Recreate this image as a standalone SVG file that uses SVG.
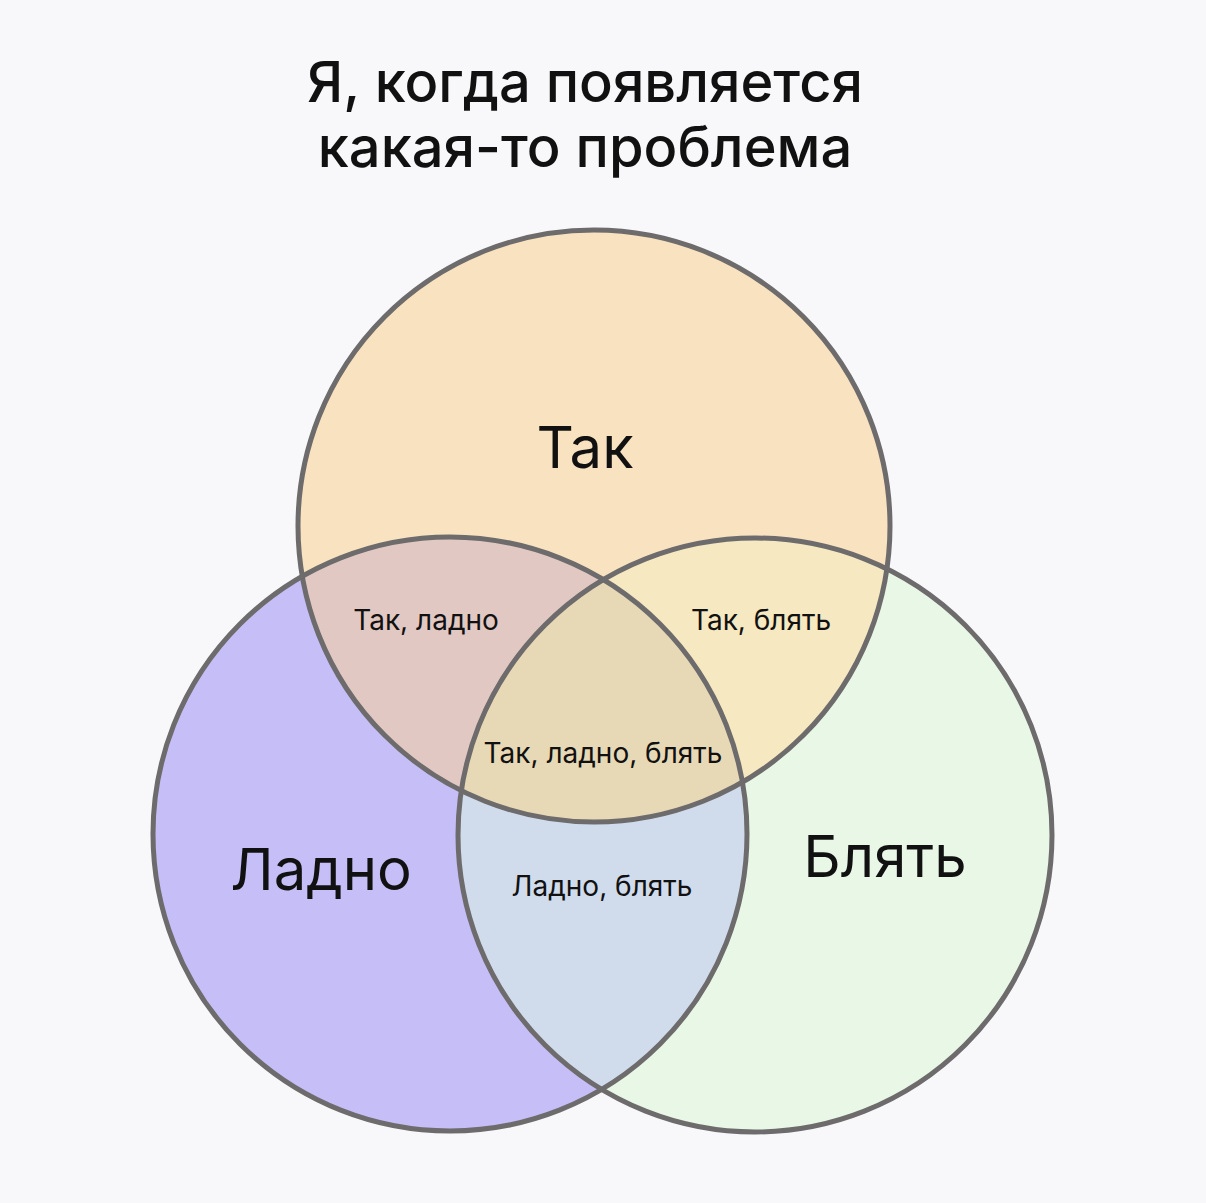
<svg xmlns="http://www.w3.org/2000/svg" width="1206" height="1203" viewBox="0 0 1206 1203">
<style>
.lbl{font-family:Inter,"Noto Sans",Roboto,"Liberation Sans",sans-serif;fill:#111;text-anchor:middle}
.big{font-size:58px}
.small{font-size:28px}
.title{font-size:56px;font-weight:500}
.ring{fill:none;stroke:#6d6b6b;stroke-width:5}
</style>
<defs>
<clipPath id="cT"><circle cx="594" cy="526" r="296"/></clipPath>
<clipPath id="cL"><circle cx="450" cy="834" r="297"/></clipPath>
<clipPath id="cR"><circle cx="755" cy="835" r="297"/></clipPath>
</defs>
<rect width="1206" height="1203" fill="#f8f8fa"/>
<g id="title">
<text class="lbl title" x="585" y="102">Я, когда появляется</text>
<text class="lbl title" x="585" y="167">какая-то проблема</text>
</g>
<g id="fills">
<circle cx="594" cy="526" r="296" fill="#f9e2bf"/>
<circle cx="450" cy="834" r="297" fill="#c5bef7"/>
<circle cx="755" cy="835" r="297" fill="#e8f7e6"/>
<g clip-path="url(#cT)">
<circle cx="450" cy="834" r="297" fill="#e2c8c3"/>
<circle cx="755" cy="835" r="297" fill="#f6e8c0"/>
</g>
<g clip-path="url(#cL)">
<circle cx="755" cy="835" r="297" fill="#d0dcec"/>
</g>
<g clip-path="url(#cT)"><g clip-path="url(#cL)">
<circle cx="755" cy="835" r="297" fill="#e8d9b6"/>
</g></g>
</g>
<g id="node-tak">
<circle class="ring" cx="594" cy="526" r="296"/>
</g>
<g id="node-ladno">
<circle class="ring" cx="450" cy="834" r="297"/>
</g>
<g id="node-blyat">
<circle class="ring" cx="755" cy="835" r="297"/>
</g>
<g id="labels">
<text class="lbl big" x="585" y="468">Так</text>
<text class="lbl big" x="321" y="890">Ладно</text>
<text class="lbl big" x="885" y="877">Блять</text>
<text class="lbl small" x="426" y="630">Так, ладно</text>
<text class="lbl small" x="761" y="630">Так, блять</text>
<text class="lbl small" x="603" y="763">Так, ладно, блять</text>
<text class="lbl small" x="602" y="896">Ладно, блять</text>
</g>
</svg>
